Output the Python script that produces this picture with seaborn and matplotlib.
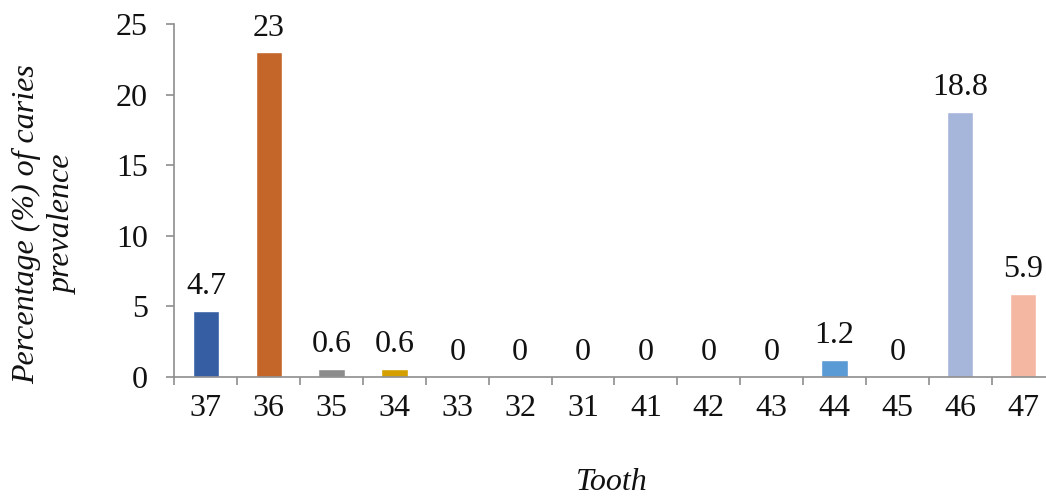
import matplotlib
matplotlib.use("Agg")
import matplotlib.pyplot as plt
import seaborn as sns
import pandas as pd

# Caries prevalence per tooth (FDI numbering)
teeth = ["37", "36", "35", "34", "33", "32", "31", "41", "42", "43", "44", "45", "46", "47"]
prevalence = [4.7, 23, 0.6, 0.6, 0, 0, 0, 0, 0, 0, 1.2, 0, 18.8, 5.9]
bar_colors = ["#365EA3", "#C4662A", "#8C8C8C", "#D4A000", "#A5A5A5", "#A5A5A5", "#A5A5A5",
              "#A5A5A5", "#A5A5A5", "#A5A5A5", "#5B9BD5", "#A5A5A5", "#A6B5DA", "#F4B7A2"]
y_ticks = [0, 5, 10, 15, 20, 25]

df = pd.DataFrame({"tooth": teeth, "prevalence": prevalence})

sns.set_theme(style="white")
plt.rcParams["font.family"] = ["Liberation Serif", "DejaVu Serif"]

FS = 23

fig = plt.figure(figsize=(10.46, 4.97), dpi=100)
# plot area runs slightly past the right edge of the canvas
ax = fig.add_axes([0.1668, 0.2414, 0.8413, 0.7103])

sns.barplot(data=df, x="tooth", y="prevalence", hue="tooth", order=teeth,
            palette=dict(zip(teeth, bar_colors)), legend=False, width=0.42,
            saturation=1, ax=ax)

for cont in ax.containers:
    ax.bar_label(cont, labels=[f"{v:g}" for v in cont.datavalues], padding=7,
                 fontsize=FS, color="#111111", clip_on=False)

ax.set_ylim(0, 25)
ax.set_yticks(y_ticks)
ax.set_xlim(-0.5, len(teeth) - 0.5)

axis_color = "#8E8E8E"
for side in ["top", "right"]:
    ax.spines[side].set_visible(False)
for side in ["left", "bottom"]:
    ax.spines[side].set_color(axis_color)
    ax.spines[side].set_linewidth(1.2)

# y ticks outward; x ticks sit on the category boundaries
ax.tick_params(axis="y", which="major", direction="out", length=6, width=1.2,
               color=axis_color, labelsize=FS, pad=13, left=True, labelcolor="#111111")
ax.tick_params(axis="x", which="major", length=0, labelsize=FS, pad=12,
               labelcolor="#111111")
ax.set_xticks([i - 0.5 for i in range(len(teeth) + 1)], minor=True)
ax.tick_params(axis="x", which="minor", direction="out", length=6, width=1.2,
               color=axis_color, bottom=True)

ax.set_ylabel("Percentage (%) of caries\nprevalence", fontsize=FS, style="italic",
              linespacing=1.35, color="#111111")
ax.yaxis.label.set_va("center")
ax.yaxis.set_label_coords(-0.147, 0.433)

ax.set_xlabel("Tooth", fontsize=FS, style="italic", color="#111111")
ax.xaxis.label.set_va("center")
ax.xaxis.set_label_coords(0.497, -0.3)

ax.grid(False)
fig.savefig("out.png", dpi=100)
